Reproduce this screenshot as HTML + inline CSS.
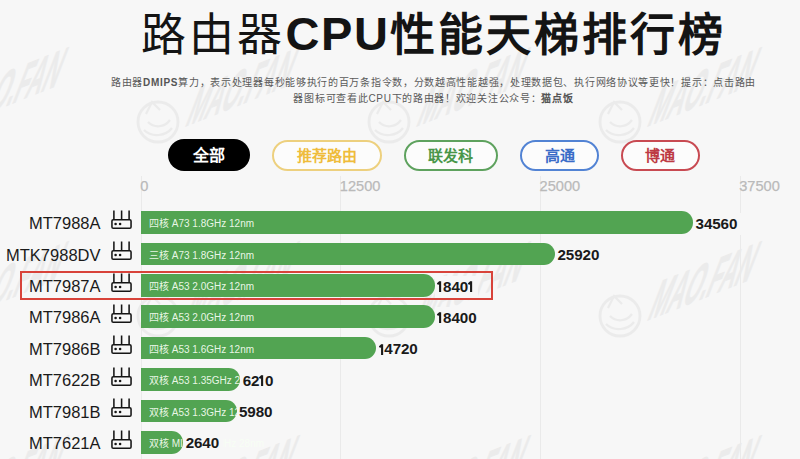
<!DOCTYPE html>
<html lang="zh-CN"><head><meta charset="utf-8">
<style>
html,body{margin:0;padding:0;}
body{width:800px;height:459px;overflow:hidden;background:#f7f7f7;position:relative;font-family:"Liberation Sans",sans-serif;color:#111;}
.wmk{position:absolute;left:0;top:0;}
.title{position:absolute;left:0;top:2px;width:867px;text-align:center;font-size:45px;letter-spacing:3px;line-height:66px;white-space:nowrap;color:#141414;}
.title b,.title .c{font-weight:bold;}
.title .c{font-size:47px;letter-spacing:1.6px;position:relative;top:-1.5px;}
.sub{position:absolute;left:0;top:74.5px;width:867px;text-align:center;font-size:10px;letter-spacing:0.7px;line-height:16.5px;color:#5a5a5a;}
.sub b{color:#555;}
.btn{position:absolute;top:140px;height:31.3px;box-sizing:border-box;border-radius:16px;border:2.2px solid;text-align:center;font-weight:bold;font-size:15px;line-height:27.5px;background:#fcfcfc;}
.gl{position:absolute;top:176px;height:300px;width:1px;background:#eaeaea;}
.ax{position:absolute;top:175.5px;margin-left:-0.8px;font-size:14.6px;line-height:20px;color:#bababa;-webkit-text-stroke:0.25px #bababa;}
.lbl{position:absolute;right:699.5px;margin-top:1px;font-size:16.5px;line-height:26px;color:#1a1a1a;white-space:nowrap;}
.icw{position:absolute;left:109.5px;width:24px;height:22px;}
.ic{display:block;}
.bar{position:absolute;left:141px;height:22.7px;background:#52a452;border-radius:0 11.35px 11.35px 0;}
.desc{position:absolute;left:149px;margin-top:2px;font-size:10px;line-height:22.7px;color:rgba(248,255,245,0.92);white-space:nowrap;}
.val{position:absolute;height:22.7px;padding:0 4px 0 2.5px;margin-top:1.5px;background:#f7f7f7;font-weight:bold;font-size:15.2px;letter-spacing:-0.1px;line-height:22.7px;color:#1a1a1a;}
.val i.one{display:inline-block;width:5.3px;height:11px;vertical-align:-0.4px;margin-right:0.4px;}
.val i svg{display:block;}
.red{position:absolute;left:20.4px;top:270.9px;width:473px;height:29.3px;box-sizing:border-box;border:2.3px solid #d8433a;}
</style></head><body>
<svg class="wmk" width="800" height="459" viewBox="0 0 800 459"><defs><g id="wm" opacity="0.042" fill="none" stroke="#000">
<circle cx="0" cy="0" r="20" stroke-width="2.8"/>
<path d="M-12 -8 L-6 -20 L2 -12 M-10 0 C-4 6 6 6 12 -2 M-14 8 C-6 16 8 14 14 6" stroke-width="2.2"/>
<text x="0" y="0" transform="matrix(0.93,-0.37,-0.36,0.933,26,5)" font-family="Liberation Sans" font-weight="bold" font-size="62" stroke-width="1.2" stroke-linejoin="round" fill="#000" textLength="110" lengthAdjust="spacingAndGlyphs">MAO.FAN</text>
</g></defs><use href="#wm" x="-73.0" y="122.0"/><use href="#wm" x="158.0" y="122.0"/><use href="#wm" x="389.0" y="122.0"/><use href="#wm" x="620.0" y="122.0"/><use href="#wm" x="851.0" y="122.0"/><use href="#wm" x="-73.0" y="316.0"/><use href="#wm" x="158.0" y="316.0"/><use href="#wm" x="389.0" y="316.0"/><use href="#wm" x="620.0" y="316.0"/><use href="#wm" x="851.0" y="316.0"/><use href="#wm" x="-73.0" y="510.0"/><use href="#wm" x="158.0" y="510.0"/><use href="#wm" x="389.0" y="510.0"/><use href="#wm" x="620.0" y="510.0"/><use href="#wm" x="851.0" y="510.0"/><use href="#wm" x="-73.0" y="704.0"/><use href="#wm" x="158.0" y="704.0"/><use href="#wm" x="389.0" y="704.0"/><use href="#wm" x="620.0" y="704.0"/><use href="#wm" x="851.0" y="704.0"/></svg>
<div class="title">路由器<span class="c">CPU</span><b>性能天梯排行榜</b></div>
<div class="sub">路由器<b>DMIPS</b>算力，表示处理器每秒能够执行的百万条指令数，分数越高性能越强，处理数据包、执行网络协议等更快！提示：点击路由<br>器图标可查看此CPU下的路由器！欢迎关注公众号：<b>猫点饭</b></div>
<div class="btn" style="left:167.5px;width:82px;top:139px;height:32px;background:#000;border:none;color:#fff;font-size:16px;line-height:33px;">全部</div>
<div class="btn" style="left:271.5px;width:110px;border-color:#edd07e;color:#efbc3c;">推荐路由</div>
<div class="btn" style="left:403.5px;width:94.5px;border-color:#5ea25e;color:#489648;">联发科</div>
<div class="btn" style="left:520px;width:79px;border-color:#5283d4;color:#3a6cc8;">高通</div>
<div class="btn" style="left:620.5px;width:79px;border-color:#c84a52;color:#bd3a44;">博通</div>
<div class="gl" style="left:140.50px"></div>
<div class="ax" style="left:141.00px">0</div>
<div class="gl" style="left:340.17px"></div>
<div class="ax" style="left:340.67px">12500</div>
<div class="gl" style="left:539.83px"></div>
<div class="ax" style="left:540.33px">25000</div>
<div class="gl" style="left:739.50px"></div>
<div class="ax" style="left:740.00px">37500</div>
<div class="lbl" style="top:209.30px">MT7988A</div>
<div class="icw" style="top:210.00px"><svg class="ic" width="24" height="22" viewBox="0 0 24 22"><g fill="none" stroke="#151515" stroke-width="1.55"><path d="M3.9 0.6v9M11.6 0.6v9M19.1 0.6v9"/><rect x="1.95" y="9.65" width="19.1" height="8.6" rx="1.3"/></g><circle cx="5.6" cy="14" r="1.3" fill="#151515"/><circle cx="10.1" cy="14" r="1.3" fill="#151515"/></svg></div>
<div class="bar" style="top:211.30px;width:552.04px"></div>
<div class="desc" style="top:211.30px">四核 A73 1.8GHz 12nm</div>
<div class="val" style="top:211.30px;left:693.04px"><span>34560</span></div>
<div class="lbl" style="top:240.67px">MTK7988DV</div>
<div class="icw" style="top:241.37px"><svg class="ic" width="24" height="22" viewBox="0 0 24 22"><g fill="none" stroke="#151515" stroke-width="1.55"><path d="M3.9 0.6v9M11.6 0.6v9M19.1 0.6v9"/><rect x="1.95" y="9.65" width="19.1" height="8.6" rx="1.3"/></g><circle cx="5.6" cy="14" r="1.3" fill="#151515"/><circle cx="10.1" cy="14" r="1.3" fill="#151515"/></svg></div>
<div class="bar" style="top:242.67px;width:414.03px"></div>
<div class="desc" style="top:242.67px">三核 A73 1.8GHz 12nm</div>
<div class="val" style="top:242.67px;left:555.03px"><span>25920</span></div>
<div class="lbl" style="top:272.04px">MT7987A</div>
<div class="icw" style="top:272.74px"><svg class="ic" width="24" height="22" viewBox="0 0 24 22"><g fill="none" stroke="#151515" stroke-width="1.55"><path d="M3.9 0.6v9M11.6 0.6v9M19.1 0.6v9"/><rect x="1.95" y="9.65" width="19.1" height="8.6" rx="1.3"/></g><circle cx="5.6" cy="14" r="1.3" fill="#151515"/><circle cx="10.1" cy="14" r="1.3" fill="#151515"/></svg></div>
<div class="bar" style="top:274.04px;width:293.93px"></div>
<div class="desc" style="top:274.04px">四核 A53 2.0GHz 12nm</div>
<div class="val" style="top:274.04px;left:434.93px"><span><i class="one"><svg width="5" height="11" viewBox="0 0 5 11"><path d="M3.1 0.2V11M0.4 3.2L3.1 0.9" fill="none" stroke="#1a1a1a" stroke-width="2.1"/></svg></i>840<i class="one"><svg width="5" height="11" viewBox="0 0 5 11"><path d="M3.1 0.2V11M0.4 3.2L3.1 0.9" fill="none" stroke="#1a1a1a" stroke-width="2.1"/></svg></i></span></div>
<div class="lbl" style="top:303.41px">MT7986A</div>
<div class="icw" style="top:304.11px"><svg class="ic" width="24" height="22" viewBox="0 0 24 22"><g fill="none" stroke="#151515" stroke-width="1.55"><path d="M3.9 0.6v9M11.6 0.6v9M19.1 0.6v9"/><rect x="1.95" y="9.65" width="19.1" height="8.6" rx="1.3"/></g><circle cx="5.6" cy="14" r="1.3" fill="#151515"/><circle cx="10.1" cy="14" r="1.3" fill="#151515"/></svg></div>
<div class="bar" style="top:305.41px;width:293.91px"></div>
<div class="desc" style="top:305.41px">四核 A53 2.0GHz 12nm</div>
<div class="val" style="top:305.41px;left:434.91px"><span><i class="one"><svg width="5" height="11" viewBox="0 0 5 11"><path d="M3.1 0.2V11M0.4 3.2L3.1 0.9" fill="none" stroke="#1a1a1a" stroke-width="2.1"/></svg></i>8400</span></div>
<div class="lbl" style="top:334.78px">MT7986B</div>
<div class="icw" style="top:335.48px"><svg class="ic" width="24" height="22" viewBox="0 0 24 22"><g fill="none" stroke="#151515" stroke-width="1.55"><path d="M3.9 0.6v9M11.6 0.6v9M19.1 0.6v9"/><rect x="1.95" y="9.65" width="19.1" height="8.6" rx="1.3"/></g><circle cx="5.6" cy="14" r="1.3" fill="#151515"/><circle cx="10.1" cy="14" r="1.3" fill="#151515"/></svg></div>
<div class="bar" style="top:336.78px;width:235.13px"></div>
<div class="desc" style="top:336.78px">四核 A53 1.6GHz 12nm</div>
<div class="val" style="top:336.78px;left:376.13px"><span><i class="one"><svg width="5" height="11" viewBox="0 0 5 11"><path d="M3.1 0.2V11M0.4 3.2L3.1 0.9" fill="none" stroke="#1a1a1a" stroke-width="2.1"/></svg></i>4720</span></div>
<div class="lbl" style="top:366.15px">MT7622B</div>
<div class="icw" style="top:366.85px"><svg class="ic" width="24" height="22" viewBox="0 0 24 22"><g fill="none" stroke="#151515" stroke-width="1.55"><path d="M3.9 0.6v9M11.6 0.6v9M19.1 0.6v9"/><rect x="1.95" y="9.65" width="19.1" height="8.6" rx="1.3"/></g><circle cx="5.6" cy="14" r="1.3" fill="#151515"/><circle cx="10.1" cy="14" r="1.3" fill="#151515"/></svg></div>
<div class="bar" style="top:368.15px;width:99.19px"></div>
<div class="desc" style="top:368.15px">双核 A53 1.35GHz 28nm</div>
<div class="val" style="top:368.15px;left:240.19px"><span>62<i class="one"><svg width="5" height="11" viewBox="0 0 5 11"><path d="M3.1 0.2V11M0.4 3.2L3.1 0.9" fill="none" stroke="#1a1a1a" stroke-width="2.1"/></svg></i>0</span></div>
<div class="lbl" style="top:397.52px">MT7981B</div>
<div class="icw" style="top:398.22px"><svg class="ic" width="24" height="22" viewBox="0 0 24 22"><g fill="none" stroke="#151515" stroke-width="1.55"><path d="M3.9 0.6v9M11.6 0.6v9M19.1 0.6v9"/><rect x="1.95" y="9.65" width="19.1" height="8.6" rx="1.3"/></g><circle cx="5.6" cy="14" r="1.3" fill="#151515"/><circle cx="10.1" cy="14" r="1.3" fill="#151515"/></svg></div>
<div class="bar" style="top:399.52px;width:95.52px"></div>
<div class="desc" style="top:399.52px">双核 A53 1.3GHz 12nm</div>
<div class="val" style="top:399.52px;left:236.52px"><span>5980</span></div>
<div class="lbl" style="top:428.89px">MT7621A</div>
<div class="icw" style="top:429.59px"><svg class="ic" width="24" height="22" viewBox="0 0 24 22"><g fill="none" stroke="#151515" stroke-width="1.55"><path d="M3.9 0.6v9M11.6 0.6v9M19.1 0.6v9"/><rect x="1.95" y="9.65" width="19.1" height="8.6" rx="1.3"/></g><circle cx="5.6" cy="14" r="1.3" fill="#151515"/><circle cx="10.1" cy="14" r="1.3" fill="#151515"/></svg></div>
<div class="bar" style="top:430.89px;width:42.17px"></div>
<div class="desc" style="top:430.89px">双核 MIPS 880MHz 28nm</div>
<div class="val" style="top:430.89px;left:183.17px"><span>2640</span></div>
<div class="red"></div>
</body></html>
